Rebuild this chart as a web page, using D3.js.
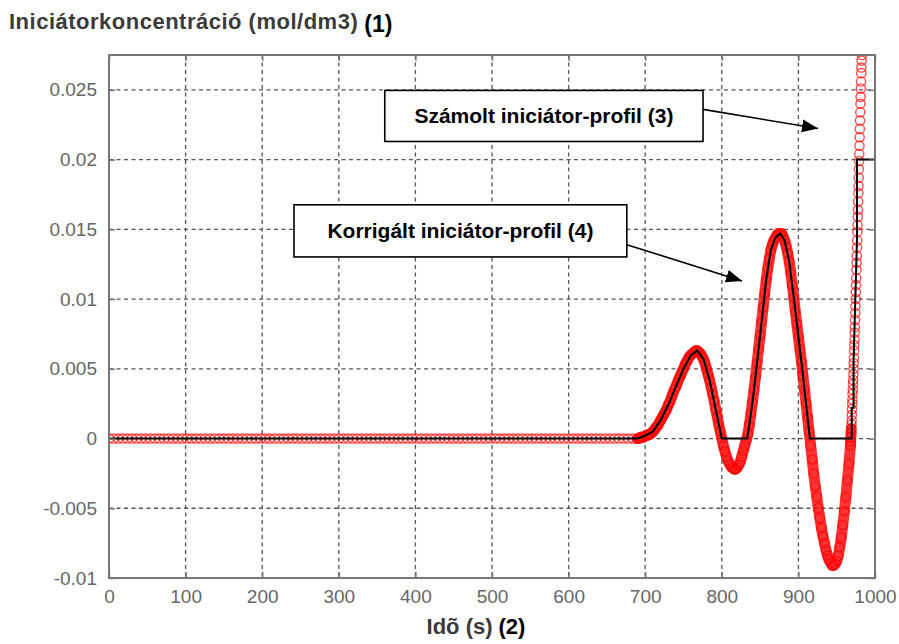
<!DOCTYPE html>
<html><head><meta charset="utf-8">
<script src="https://cdn.jsdelivr.net/npm/d3@7"></script>
<style>html,body{margin:0;padding:0;background:#fff}svg{display:block}</style>
</head><body>
<svg id="chart" width="899" height="644"></svg>
<script>
// ---------- DATA ----------
const xTicks = [0, 100, 200, 300, 400, 500, 600, 700, 800, 900, 1000];
const xTickLabels = ["0", "100", "200", "300", "400", "500", "600", "700", "800", "900", "1000"];
const yTicks = [-0.01, -0.005, 0, 0.005, 0.01, 0.015, 0.02, 0.025];
const yTickLabels = ["-0.01", "-0.005", "0", "0.005", "0.01", "0.015", "0.02", "0.025"];

const yTitle = "Iniciátorkoncentráció (mol/dm3)";
const yTitleTag = "(1)";
const xTitle = "Idõ (s)";
const xTitleTag = "(2)";

// Calculated initiator profile (red circles): [time s, concentration mol/dm3]
const calculatedProfile = [
[0,0],[6,0],[12,0],[18,0],[24,0],[30,0],[36,0],[42,0],[48,0],[54,0],[60,0],[66,0],[72,0],[78,0],[84,0],[90,0],[96,0],
[102,0],[108,0],[114,0],[120,0],[126,0],[132,0],[138,0],[144,0],[150,0],[156,0],[162,0],[168,0],[174,0],[180,0],[186,0],[192,0],[198,0],
[204,0],[210,0],[216,0],[222,0],[228,0],[234,0],[240,0],[246,0],[252,0],[258,0],[264,0],[270,0],[276,0],[282,0],[288,0],[294,0],
[300,0],[306,0],[312,0],[318,0],[324,0],[330,0],[336,0],[342,0],[348,0],[354,0],[360,0],[366,0],[372,0],[378,0],[384,0],[390,0],[396,0],
[402,0],[408,0],[414,0],[420,0],[426,0],[432,0],[438,0],[444,0],[450,0],[456,0],[462,0],[468,0],[474,0],[480,0],[486,0],[492,0],[498,0],
[504,0],[510,0],[516,0],[522,0],[528,0],[534,0],[540,0],[546,0],[552,0],[558,0],[564,0],[570,0],[576,0],[582,0],[588,0],[594,0],
[600,0],[606,0],[612,0],[618,0],[624,0],[630,0],[636,0],[642,0],[648,0],[654,0],[660,0],[666,0],[672,0],[678,0],[684,0],
[690,0],[692,0],[694,0.0001],[696,0.0001],[698,0.0001],[700,0.0002],[702,0.0002],[704,0.0003],[706,0.0003],[708,0.0004],
[710,0.0005],[712,0.0006],[714,0.0008],[716,0.0009],[718,0.0011],[720,0.0013],[722,0.0015],[724,0.0017],[726,0.0019],[728,0.0021],
[730,0.0024],[732,0.0026],[734,0.0029],[736,0.0032],[738,0.0035],[740,0.0037],[742,0.0040],[744,0.0043],[746,0.0045],[748,0.0048],
[750,0.0050],[752,0.0053],[754,0.0055],[756,0.0057],[758,0.0059],[760,0.0060],[762,0.0061],[764,0.0062],[766,0.0063],[768,0.0063],
[770,0.0062],[772,0.0061],[774,0.0059],[776,0.0057],[778,0.0054],[780,0.0050],[782,0.0046],[784,0.0042],[786,0.0037],[788,0.0032],
[790,0.0027],[792,0.0021],[794,0.0016],[796,0.0010],[798,0.0005],[800,0],[802,-0.0005],[804,-0.0009],[806,-0.0013],[808,-0.0016],
[810,-0.0018],[812,-0.0020],[814,-0.0021],[816,-0.0022],[818,-0.0022],[820,-0.0021],[822,-0.0019],[824,-0.0017],[826,-0.0013],[828,-0.0009],
[830,-0.0005],[832,-0.0001],[834,0.0003],[836,0.0010],[838,0.0018],[840,0.0026],[842,0.0035],[844,0.0044],[846,0.0054],[848,0.0064],
[850,0.0074],[852,0.0084],[854,0.0094],[856,0.0104],[858,0.0114],[860,0.0122],[862,0.0129],[864,0.0135],[866,0.0139],[868,0.0142],
[870,0.0144],[872,0.0146],[874,0.0147],[876,0.0147],[878,0.0147],[880,0.0145],[882,0.0142],[884,0.0138],[886,0.0133],[888,0.0127],
[890,0.0119],[892,0.0110],[894,0.0101],[896,0.0091],[898,0.0082],[900,0.0073],[902,0.0064],[904,0.0055],[906,0.0045],[908,0.0035],
[910,0.0025],[912,0.0015],[914,0.0005],[916,-0.0005],[918,-0.0015],[920,-0.0025],[922,-0.0034],[924,-0.0042],[926,-0.0050],[928,-0.0057],
[930,-0.0064],[932,-0.0070],[934,-0.0075],[936,-0.0080],[938,-0.0084],[940,-0.0087],[942,-0.0089],[944,-0.0091],[946,-0.0091],[948,-0.0090],
[950,-0.0088],[952,-0.0084],[954,-0.0078],[956,-0.0071],[958,-0.0062],[960,-0.0052],[962,-0.0042],[964,-0.0030],[966,-0.0018],[968,-0.0005],
[968.25,-0.0002],[968.5,0.0001],[968.75,0.0004],[969,0.0007],[969.25,0.0010],[969.5,0.0013],[969.75,0.0017],[970,0.0021],
[970.25,0.0025],[970.5,0.0028],[970.75,0.0032],[971,0.0035],[971.25,0.0039],[971.5,0.0042],[971.75,0.0046],[972,0.0050],
[972.25,0.0054],[972.5,0.0058],[972.75,0.0063],[973,0.0067],[973.25,0.0071],[973.5,0.0076],[973.75,0.0080],[974,0.0085],
[974.25,0.0090],[974.5,0.0095],[974.75,0.0100],[975,0.0105],[975.25,0.0110],[975.5,0.0115],[975.75,0.0121],[976,0.0126],
[976.25,0.0131],[976.5,0.0137],[976.75,0.0142],[977,0.0148],[977.25,0.0153],[977.5,0.0159],[977.75,0.0164],[978,0.0170],
[978.25,0.0176],[978.5,0.0181],[978.75,0.0187],[979,0.0193],[979.25,0.0199],[979.5,0.0204],[979.75,0.0210],[980,0.0216],
[980.25,0.0222],[980.5,0.0228],[980.75,0.0234],[981,0.0240],[981.25,0.0245],[981.5,0.0251],[981.75,0.0256],[982,0.0262],
[982.25,0.0266],[982.5,0.0271],[982.75,0.0275]
];

// Corrected initiator profile (black line): [time s, concentration mol/dm3]
const correctedProfile = [
[0,0],[690,0],[700,0.0002],[710,0.0005],[720,0.0013],[730,0.0024],[740,0.0037],[750,0.0050],[760,0.0060],[768,0.0063],
[776,0.0057],[784,0.0042],[792,0.0021],[800,0],[833,0],[836,0.0010],[840,0.0026],[846,0.0054],[852,0.0084],[858,0.0114],
[864,0.0135],[870,0.0144],[876,0.0147],[882,0.0142],[888,0.0127],[894,0.0101],[900,0.0073],[906,0.0045],[912,0.0015],[915,0],
[969.6,0],[969.6,0.0022],[972,0.0022],[972,0.0055],[976.5,0.0143],[976.5,0.02],[1000,0.02]
];

// Annotations (anchored in data units)
const annotations = [
  { text: "Számolt iniciátor-profil (3)", x0: 360, x1: 775.5, yTop: 0.02496, yBot: 0.0213,
    from: [775.5, 0.0236], to: [925.6, 0.02223] },
  { text: "Korrigált iniciátor-profil (4)", x0: 241.5, x1: 676, yTop: 0.01676, yBot: 0.01302,
    from: [676, 0.0139], to: [826.4, 0.0113] }
];

// ---------- CHART ----------
const W = 899, H = 644;
const margin = { top: 55, right: 24, bottom: 66, left: 109 };
const svg = d3.select("#chart");
const iw = W - margin.left - margin.right, ih = H - margin.top - margin.bottom;
const FONT = "'Liberation Sans', Arial, sans-serif";

const x = d3.scaleLinear().domain([0, 1000]).range([margin.left, margin.left + iw]);
const y = d3.scaleLinear().domain([-0.01, 0.0275]).range([margin.top + ih, margin.top]);

svg.append("rect").attr("width", W).attr("height", H).attr("fill", "#fff");

svg.append("defs").append("clipPath").attr("id", "plotclip")
  .append("rect").attr("x", margin.left).attr("y", margin.top).attr("width", iw).attr("height", ih);

const gridColor = "#555";
const grid = svg.append("g");
grid.selectAll("line.vx").data(xTicks.filter(t => t > 0 && t < 1000)).join("line")
  .attr("x1", d => x(d)).attr("x2", d => x(d)).attr("y1", margin.top).attr("y2", margin.top + ih)
  .attr("stroke", gridColor).attr("stroke-width", 1.3).attr("stroke-dasharray", "4,3.5");
grid.selectAll("line.hy").data(yTicks).join("line")
  .attr("x1", margin.left).attr("x2", margin.left + iw).attr("y1", d => y(d)).attr("y2", d => y(d))
  .attr("stroke", gridColor).attr("stroke-width", 1.3).attr("stroke-dasharray", "4,3.5");

// calculated profile: dense overlapping markers form a thick band in the dynamic part
const plot = svg.append("g").attr("clip-path", "url(#plotclip)");
const dynamicPart = calculatedProfile.filter(d => d[0] >= 690 && d[0] <= 969);
plot.append("path").datum(dynamicPart)
  .attr("d", d3.line().x(d => x(d[0])).y(d => y(d[1])))
  .attr("fill", "none").attr("stroke", "#ff0000").attr("stroke-opacity", 0.8)
  .attr("stroke-width", 11).attr("stroke-linejoin", "round").attr("stroke-linecap", "round");
plot.append("g").selectAll("circle").data(calculatedProfile).join("circle")
  .attr("cx", d => x(d[0])).attr("cy", d => y(d[1])).attr("r", 4.6)
  .attr("fill", "none").attr("stroke", "#ff0000").attr("stroke-opacity", 0.7).attr("stroke-width", 1.4);

// corrected profile line
plot.append("path").datum(correctedProfile)
  .attr("d", d3.line().x(d => x(d[0])).y(d => y(d[1])))
  .attr("fill", "none").attr("stroke", "#000").attr("stroke-width", 2);

// frame
const frameColor = "#777";
svg.append("rect").attr("x", margin.left).attr("y", margin.top).attr("width", iw).attr("height", ih)
  .attr("fill", "none").attr("stroke", frameColor).attr("stroke-width", 2);

// axes with inward ticks
const axB = svg.append("g").attr("transform", `translate(0,${margin.top + ih})`)
  .call(d3.axisBottom(x).tickValues(xTicks).tickSize(-6).tickPadding(12).tickFormat((d, i) => xTickLabels[i]));
const axT = svg.append("g").attr("transform", `translate(0,${margin.top})`)
  .call(d3.axisTop(x).tickValues(xTicks).tickSize(-6).tickFormat(""));
const axL = svg.append("g").attr("transform", `translate(${margin.left},0)`)
  .call(d3.axisLeft(y).tickValues(yTicks).tickSize(-6).tickPadding(12).tickFormat((d, i) => yTickLabels[i]));
const axR = svg.append("g").attr("transform", `translate(${margin.left + iw},0)`)
  .call(d3.axisRight(y).tickValues(yTicks).tickSize(-6).tickFormat(""));
[axB, axT, axL, axR].forEach(a => {
  a.select(".domain").remove();
  a.selectAll(".tick line").attr("stroke", frameColor).attr("stroke-width", 1.5);
  a.selectAll(".tick text").attr("fill", "#666").attr("font-family", FONT).attr("font-size", 19);
});

// titles
const yt = svg.append("text").attr("x", 9).attr("y", 29)
  .attr("font-family", FONT).attr("font-weight", "bold").attr("font-size", 22);
yt.append("tspan").attr("fill", "#3a3a3a").attr("letter-spacing", 0.5).text(yTitle);
yt.append("tspan").attr("fill", "#000").attr("dx", 6).attr("dy", 3).attr("font-size", 23).text(yTitleTag);

const xt = svg.append("text").attr("x", 476).attr("y", 634).attr("text-anchor", "middle")
  .attr("font-family", FONT).attr("font-weight", "bold").attr("font-size", 22);
xt.append("tspan").attr("fill", "#3a3a3a").text(xTitle);
xt.append("tspan").attr("fill", "#000").attr("dx", 6).text(xTitleTag);

// annotations
svg.select("defs").append("marker").attr("id", "arrow").attr("markerUnits", "userSpaceOnUse")
  .attr("markerWidth", 18).attr("markerHeight", 14).attr("refX", 16).attr("refY", 6.5).attr("orient", "auto")
  .append("path").attr("d", "M0,0 L16,6.5 L0,13 Z").attr("fill", "#000");

const ann = svg.append("g");
annotations.forEach(a => {
  ann.append("line").attr("x1", x(a.from[0])).attr("y1", y(a.from[1])).attr("x2", x(a.to[0])).attr("y2", y(a.to[1]))
    .attr("stroke", "#000").attr("stroke-width", 1.6).attr("marker-end", "url(#arrow)");
  ann.append("rect").attr("x", x(a.x0)).attr("y", y(a.yTop)).attr("width", x(a.x1) - x(a.x0)).attr("height", y(a.yBot) - y(a.yTop))
    .attr("fill", "#fff").attr("stroke", "#000").attr("stroke-width", 1.6);
  ann.append("text").attr("x", (x(a.x0) + x(a.x1)) / 2).attr("y", (y(a.yTop) + y(a.yBot)) / 2 + 7.5)
    .attr("text-anchor", "middle").attr("font-family", FONT)
    .attr("font-weight", "bold").attr("font-size", 21).attr("fill", "#000").text(a.text);
});
</script>
</body></html>
